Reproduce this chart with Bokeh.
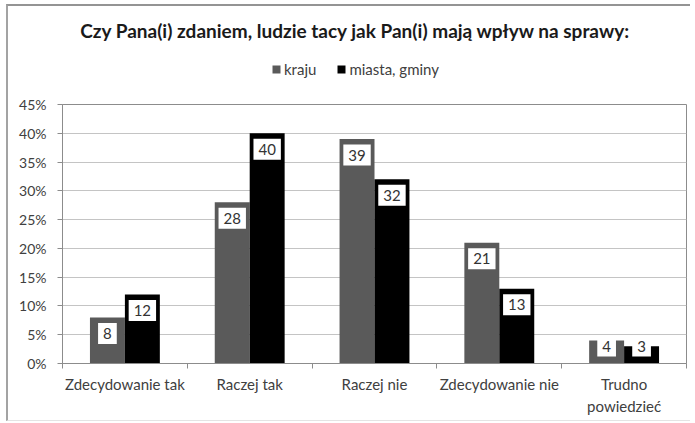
from bokeh.plotting import figure
from bokeh.layouts import column
from bokeh.models import (ColumnDataSource, FixedTicker, Range1d, Legend, LegendItem,
                          PrintfTickFormatter)
from bokeh.transform import dodge
from bokeh.core.properties import value
from bokeh.embed import file_html
from bokeh.resources import INLINE

title_text = "Czy Pana(i) zdaniem, ludzie tacy jak Pan(i) mają wpływ na sprawy:"
categories = ["Zdecydowanie tak", "Raczej tak", "Raczej nie", "Zdecydowanie nie", "Trudno\npowiedzieć"]
kraju = [8, 28, 39, 21, 4]
miasta = [12, 40, 32, 13, 3]
series_names = ["kraju", "miasta, gminy"]
y_ticks = [0, 5, 10, 15, 20, 25, 30, 35, 40, 45]

FONT = "Lato"
GRAY = "#5a5a5a"
BLACK = "#000000"
W = 682
HEAD_H = 84
MAIN_H = 330
FRAME_L = 54
FRAME_R = 4

centers = [i + 0.5 for i in range(len(categories))]
boundaries = list(range(len(categories) + 1))
LABEL_MIN = 5.8  # labels of very short bars are lifted so they stay above the axis

src = ColumnDataSource(dict(
    x=centers,
    kraju=kraju,
    miasta=miasta,
    lk=[max(v, LABEL_MIN) for v in kraju],
    lm=[max(v, LABEL_MIN) for v in miasta],
    tk=[str(v) for v in kraju],
    tm=[str(v) for v in miasta],
))

# ---------------- header: title + legend (frame aligned with the chart's frame) ----------------
head = figure(width=W, height=HEAD_H, output_backend="svg", toolbar_location=None,
              x_range=Range1d(FRAME_L, W - FRAME_R), y_range=Range1d(HEAD_H, 0),
              min_border_left=FRAME_L, min_border_right=FRAME_R,
              min_border_top=0, min_border_bottom=0)
head.axis.visible = False
head.grid.grid_line_color = None
head.outline_line_color = None

head.text(x=[347], y=[24], text=[title_text], text_align="center", text_baseline="middle",
          text_font=value(FONT), text_font_size="19px", text_font_style="bold",
          text_color="#1a1a1a")

# swatch renderers for the legend (zero-height, never visible themselves)
h1 = head.vbar(x="x", top="kraju", bottom="kraju", width=0.28, source=src,
               fill_color=GRAY, line_color=None)
h2 = head.vbar(x="x", top="miasta", bottom="miasta", width=0.28, source=src,
               fill_color=BLACK, line_color=None)
legend = Legend(items=[LegendItem(label=series_names[0], renderers=[h1]),
                       LegendItem(label=series_names[1], renderers=[h2])],
                orientation="horizontal", location=(209, 12),
                label_text_font=FONT, label_text_font_size="15px", label_text_color="#404040",
                glyph_width=10, glyph_height=10, label_standoff=3, spacing=20,
                padding=2, margin=0, border_line_color=None, background_fill_alpha=0)
head.add_layout(legend, "center")

# ---------------- main chart ----------------
p = figure(width=W, height=MAIN_H, output_backend="svg", toolbar_location=None,
           x_range=Range1d(0, len(categories)), y_range=Range1d(y_ticks[0], y_ticks[-1]),
           min_border_left=FRAME_L, min_border_right=FRAME_R, min_border_top=14,
           min_border_bottom=57)

BW = 0.28
OFF = 0.14
p.vbar(x=dodge("x", -OFF, range=p.x_range), top="kraju", width=BW, source=src,
       fill_color=GRAY, line_color=None)
p.vbar(x=dodge("x", OFF, range=p.x_range), top="miasta", width=BW, source=src,
       fill_color=BLACK, line_color=None)

for col, tcol, off in (("lk", "tk", -OFF), ("lm", "tm", OFF)):
    p.text(x=dodge("x", off, range=p.x_range), y=col, text=tcol, source=src,
           text_align="center", text_baseline="middle", y_offset=16,
           text_font=value(FONT), text_font_size="15px", text_color="#333333",
           background_fill_color="white", padding=5)

p.yaxis.ticker = FixedTicker(ticks=y_ticks)
p.yaxis.formatter = PrintfTickFormatter(format="%d%%")
p.yaxis.major_label_text_font = FONT
p.yaxis.major_label_text_font_size = "14px"
p.yaxis.major_label_text_color = "#404040"
p.yaxis.axis_line_color = "#8c8c8c"
p.yaxis.major_tick_line_color = "#8c8c8c"
p.yaxis.major_tick_out = 5
p.yaxis.major_tick_in = 0
p.yaxis.minor_tick_line_color = None
p.yaxis.major_label_standoff = 11

p.xaxis.ticker = FixedTicker(ticks=centers, minor_ticks=boundaries)
p.xaxis.major_label_overrides = {c: lab for c, lab in zip(centers, categories)}
p.xaxis.major_label_text_font = FONT
p.xaxis.major_label_text_font_size = "15px"
p.xaxis.major_label_text_color = "#404040"
p.xaxis.major_label_text_line_height = 1.25
p.xaxis.axis_line_color = "#8c8c8c"
p.xaxis.major_tick_line_color = None
p.xaxis.minor_tick_line_color = "#8c8c8c"
p.xaxis.minor_tick_out = 5
p.xaxis.minor_tick_in = 0
p.xaxis.major_label_standoff = 5

p.xgrid.grid_line_color = None
p.ygrid.ticker = FixedTicker(ticks=y_ticks)
p.ygrid.grid_line_color = "#c4c4c4"
p.outline_line_color = "#8c8c8c"

layout = column(head, p, spacing=0)
layout.styles = {"margin-left": "6px", "margin-top": "4px",
                 "border-left": "2px solid #a3a3a3", "border-top": "2px solid #949494",
                 "border-bottom": "1px solid #e4e4e4"}
open("out.html", "w").write(file_html(layout, INLINE))
